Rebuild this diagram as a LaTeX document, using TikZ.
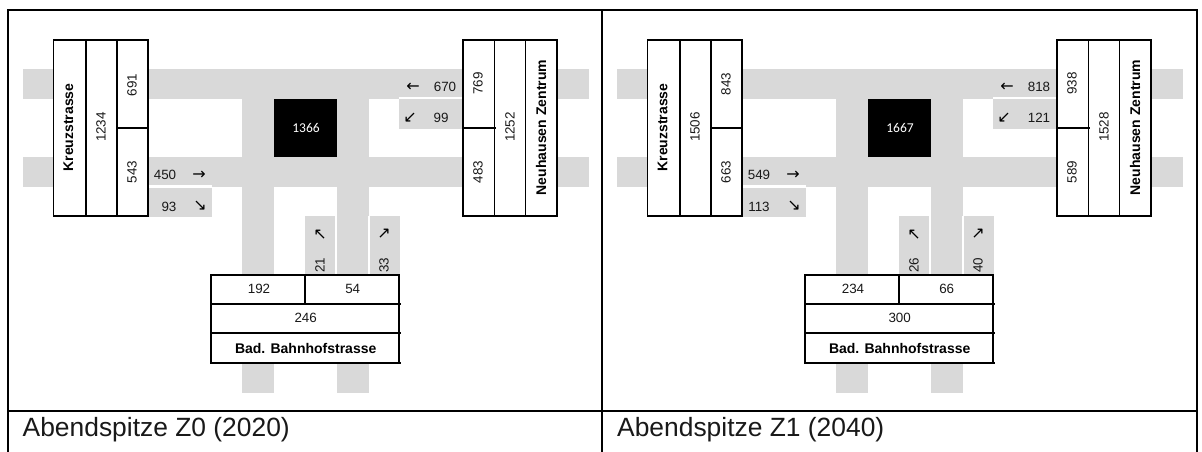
\documentclass[tikz,border=0pt]{standalone}
\usepackage{fontspec}
\setmainfont{Liberation Sans}
\newfontfamily\arrowfont{DejaVu Sans}
\newfontfamily\calfont{Carlito}
\definecolor{road}{RGB}{217,217,217}
\tikzset{
  numlabel/.style={inner sep=0pt,font=\fontsize{13.4}{15}\selectfont,text=black!90},
  vertlabel/.style={numlabel,rotate=90},
  namelabel/.style={inner sep=0pt,font=\fontsize{14}{16}\selectfont\bfseries},
  dirarrow/.style={inner sep=0pt,font=\fontsize{16}{18}\arrowfont\selectfont},
  boxline/.style={draw=black,line width=1.5pt},
  frameline/.style={draw=black,line width=1.6pt},
  caption/.style={inner sep=0pt,anchor=base west,font=\fontsize{26.4}{30}\selectfont,text=black!90},
  whiteline/.style={draw=white,line width=2pt},
}
% #1 prefix, #2 x offset, then values set through \def before the call
\newcommand{\junction}[2]{%
\begin{scope}[shift={(#2,0)}]
  % roads
  \fill[road] (23,69) rectangle (589,99);
  \fill[road] (23,157) rectangle (589,187);
  \fill[road] (242,99) rectangle (274,393);
  \fill[road] (337,99) rectangle (369,393);
  % turning lanes
  \fill[road] (148,187.5) rectangle (212,217);
  \fill[road] (399,99) rectangle (463,129);
  \fill[road] (305,216) rectangle (336,275);
  \fill[road] (370,216) rectangle (400,275);
  \draw[whiteline] (148,186.3) -- (212,186.3);
  \draw[whiteline] (399,98.3) -- (463,98.3);
  \draw[whiteline] (336.3,216) -- (336.3,276);
  \draw[whiteline] (368.8,216) -- (368.8,276);
  % centre
  \fill[black] (273.5,99) rectangle (337,157);
  \node[inner sep=0pt,text=white,font=\fontsize{13.5}{15}\calfont\selectfont] (#1c) at (306,127.7) {\vC};
  % left box
  \filldraw[boxline,fill=white] (53.5,40) rectangle (148,216);
  \draw[boxline] (86,40) -- (86,216) (117,40) -- (117,216) (117,128) -- (149,128);
  \node[namelabel,rotate=90] (#1ln) at (68.5,127.5) {Kreuzstrasse};
  \node[vertlabel] (#1lt) at (101,127) {\vLT};
  \node[vertlabel] (#1la) at (132,\vLAy) {\vLA};
  \node[vertlabel] (#1lb) at (132,172) {\vLB};
  % right box
  \filldraw[boxline,fill=white] (463,40) rectangle (557,216);
  \draw[boxline] (494.5,40) -- (494.5,216) (525.5,40) -- (525.5,216) (463,128) -- (495.5,128);
  \node[namelabel,rotate=90] (#1rn) at (541,127.5) {Neuhausen Zentrum};
  \node[vertlabel] (#1rt) at (510,127) {\vRT};
  \node[vertlabel] (#1ra) at (478,83.5) {\vRA};
  \node[vertlabel] (#1rb) at (478,172) {\vRB};
  % bottom box
  \filldraw[boxline,fill=white] (211,275) rectangle (399,363);
  \draw[boxline] (305,275) -- (305,304) (211,304) -- (400.5,304) (211,333) -- (400.5,333) (399,363) -- (400.5,363);
  \node[numlabel] (#1ba) at (259,289) {\vBA};
  \node[numlabel] (#1bb) at (352.7,289) {\vBB};
  \node[numlabel] (#1bt) at (305.7,318) {\vBT};
  \node[namelabel] (#1bn) at (305.7,348) {Bad. Bahnhofstrasse};
  % turning figures
  \node[numlabel] (#1e1) at (165,175) {\vEa};
  \node[dirarrow] (#1e1a) at (199,175) {→};
  \node[numlabel] (#1e2) at (\vEbx,206.7) {\vEb};
  \node[dirarrow] (#1e2a) at (200,206) {↘};
  \node[numlabel] (#1w1) at (445,87) {\vWa};
  \node[dirarrow] (#1w1a) at (413,87) {←};
  \node[numlabel] (#1w2) at (\vWbx,118) {\vWb};
  \node[dirarrow] (#1w2a) at (410,118) {↙};
  \node[vertlabel] (#1s1) at (320,265) {\vSa};
  \node[dirarrow] (#1s1a) at (320,235) {↖};
  \node[vertlabel] (#1s2) at (384,265) {\vSb};
  \node[dirarrow] (#1s2a) at (384,234) {↗};
\end{scope}}
\begin{document}
\begin{tikzpicture}[x=1pt,y=-1pt]
  \useasboundingbox (0,0) rectangle (1202,452);
  \fill[white] (0,0) rectangle (1202,452);
  % panel Z0
  \def\vC{1366}\def\vLT{1234}\def\vLA{691}\def\vLAy{85}\def\vLB{543}
  \def\vRT{1252}\def\vRA{769}\def\vRB{483}
  \def\vBA{192}\def\vBB{54}\def\vBT{246}
  \def\vEa{450}\def\vEb{93}\def\vEbx{169}
  \def\vWa{670}\def\vWb{99}\def\vWbx{441}
  \def\vSa{21}\def\vSb{33}
  \junction{a}{0}
  % panel Z1
  \def\vC{1667}\def\vLT{1506}\def\vLA{843}\def\vLAy{84}\def\vLB{663}
  \def\vRT{1528}\def\vRA{938}\def\vRB{589}
  \def\vBA{234}\def\vBB{66}\def\vBT{300}
  \def\vEa{549}\def\vEb{113}\def\vEbx{165}
  \def\vWa{818}\def\vWb{121}\def\vWbx{445}
  \def\vSa{26}\def\vSb{40}
  \junction{b}{594}
  % frame
  \draw[frameline] (8,452) -- (8,10) -- (1196.7,10) -- (1196.7,452);
  \draw[frameline] (602,10) -- (602,452);
  \draw[frameline] (8,411) -- (1196.7,411);
  \node[caption] (capa) at (22.5,436) {Abendspitze Z0 (2020)};
  \node[caption] (capb) at (617,436) {Abendspitze Z1 (2040)};
\end{tikzpicture}
\end{document}
